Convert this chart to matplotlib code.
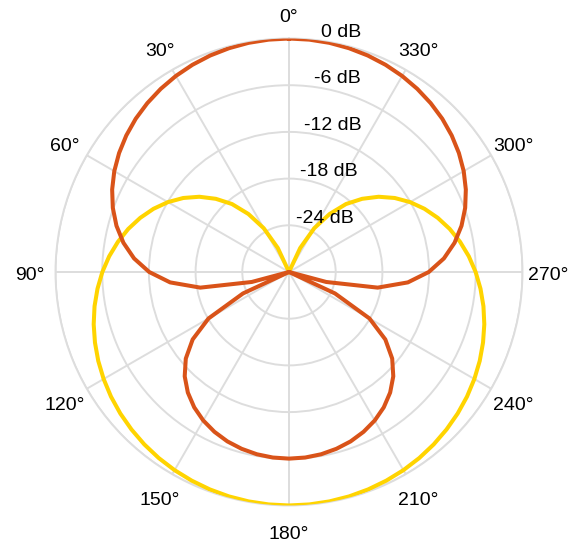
import numpy as np
import matplotlib.pyplot as plt

plt.rcParams['font.family'] = ['Liberation Sans', 'DejaVu Sans']

# sampled every 5 degrees, 0..360
angles_deg = list(range(0, 361, 5))

# front facing pattern (dB), floor at -30 dB
front_db = [0, -0.03, -0.1, -0.23, -0.4, -0.63, -0.92, -1.27, -1.68, -2.15,
            -2.71, -3.35, -4.08, -4.93, -5.91, -7.05, -8.4, -10.02, -12.04,
            -14.67, -18.43, -25.05, -30, -23.48, -18.06, -14.89, -12.69,
            -11.05, -9.78, -8.77, -7.97, -7.34, -6.84, -6.48, -6.22, -6.07,
            -6.02,
            -6.07, -6.22, -6.48, -6.84, -7.34, -7.97, -8.77, -9.78, -11.05,
            -12.69, -14.89, -18.06, -23.48, -30, -25.05, -18.43, -14.67,
            -12.04, -10.02, -8.4, -7.05, -5.91, -4.93, -4.08, -3.35, -2.71,
            -2.15, -1.68, -1.27, -0.92, -0.63, -0.4, -0.23, -0.1, -0.03, 0]

# rear facing pattern (dB)
rear_db = [-30, -30, -30, -30, -30, -26.6, -23.5, -20.9, -18.6, -16.7,
           -14.96, -13.42, -12.04, -10.79, -9.66, -8.62, -7.68, -6.81, -6.02,
           -5.3, -4.63, -4.02, -3.47, -2.96, -2.5, -2.08, -1.71, -1.38, -1.08,
           -0.82, -0.6, -0.42, -0.27, -0.15, -0.07, -0.02, 0,
           -0.02, -0.07, -0.15, -0.27, -0.42, -0.6, -0.82, -1.08, -1.38,
           -1.71, -2.08, -2.5, -2.96, -3.47, -4.02, -4.63, -5.3, -6.02,
           -6.81, -7.68, -8.62, -9.66, -10.79, -12.04, -13.42, -14.96,
           -16.7, -18.6, -20.9, -23.5, -26.6, -30, -30, -30, -30, -30]

r_ticks = [-24, -18, -12, -6, 0]
r_labels = ['-24 dB', '-18 dB', '-12 dB', '-6 dB', '0 dB']
theta_ticks = list(range(0, 360, 30))
theta_labels = [f'{a}°' for a in theta_ticks]

fig = plt.figure(figsize=(5.75, 5.47), dpi=100)
ax = fig.add_axes([0.0965, 0.0759, 0.8122, 0.8537], projection='polar')
ax.set_theta_zero_location('N')
ax.set_theta_direction(1)

th = np.deg2rad(angles_deg)
ax.plot(th, rear_db, color='#ffd400', lw=2.9, zorder=3)
ax.plot(th, front_db, color='#d95319', lw=2.9, zorder=4)

ax.set_ylim(-30, 0)
ax.set_yticks(r_ticks)
ax.set_yticklabels([])
ax.set_xticks(np.deg2rad(theta_ticks))
ax.set_xticklabels([])
ax.grid(True, color='#dddddd', lw=1.4)
ax.spines['polar'].set_color('#dddddd')
ax.spines['polar'].set_linewidth(1.4)

# angle labels outside the circle
for a, lab in zip(theta_ticks, theta_labels):
    t = np.deg2rad(a)
    dx = -np.sin(t) * 25.5
    dy = np.cos(t) * 25.5 - 4
    ax.annotate(lab, xy=(t, 0), xytext=(dx, dy), textcoords='offset pixels',
                ha='center', va='center', fontsize=14,
                annotation_clip=False)

# radial labels slightly right of the top
for rv, lab in zip(r_ticks, r_labels):
    ax.annotate(lab, xy=(np.deg2rad(-5), rv), xytext=(32, 7),
                textcoords='offset pixels', ha='center', va='center',
                fontsize=14, zorder=5)

fig.savefig('out.png', dpi=100)
